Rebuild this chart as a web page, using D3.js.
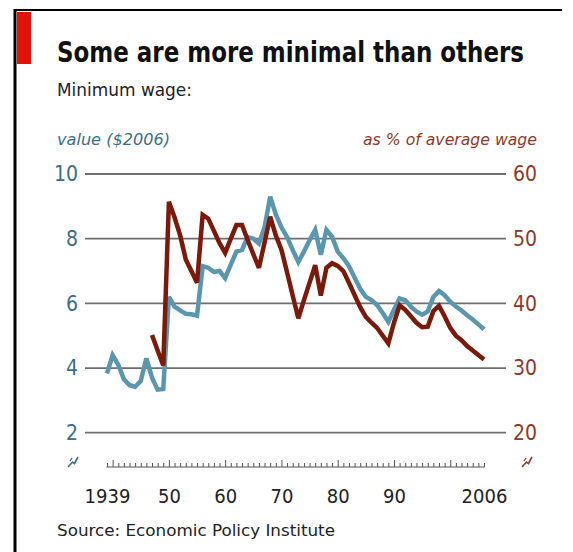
<!DOCTYPE html>
<html>
<head>
<meta charset="utf-8">
<script src="https://cdn.jsdelivr.net/npm/d3@7"></script>
<style>
  html, body { margin: 0; padding: 0; background: #fff; }
  svg { display: block; }
  text { font-family: "Liberation Sans Narrow", "DejaVu Sans Condensed", "Open Sans", sans-serif; }
</style>
</head>
<body>
<script>
// ---------- data ----------
const blueFirstYear = 1939;
const blueValues = [ // minimum wage, value in $2006, 1939-2006
  3.83, 4.4, 4.1, 3.65, 3.47, 3.42, 3.6, 4.3, 3.7, 3.33, 3.35,
  6.2, 5.9, 5.78, 5.68, 5.66, 5.62, 7.15, 7.1, 6.97, 7.0,
  6.78, 7.2, 7.6, 7.65, 8.05, 8.0, 7.85, 8.35, 9.3, 8.75,
  8.35, 8.05, 7.65, 7.28, 7.6, 7.95, 8.27, 7.5, 8.27, 8.06,
  7.6, 7.4, 7.15, 6.8, 6.45, 6.2, 6.1, 5.95, 5.7, 5.43,
  5.8, 6.15, 6.1, 5.9, 5.75, 5.65, 5.75, 6.2, 6.38, 6.25,
  6.05, 5.9, 5.78, 5.63, 5.5, 5.35, 5.2
];
const redFirstYear = 1947;
const redValues = [ // minimum wage as % of average wage, 1947-2006
  35.1, 32.7, 30.4,
  55.7, 53.3, 50.5, 46.8, 45.0, 43.2, 53.7, 53.1, 51.2, 49.3,
  47.8, 50.0, 52.1, 52.1, 49.8, 47.6, 45.5, 49.4, 53.4, 50.5,
  48.3, 44.8, 41.2, 37.7, 40.5, 43.2, 45.9, 41.2, 45.5, 46.2,
  45.8, 45.0, 43.2, 41.3, 39.4, 37.9, 37.0, 36.2, 35.0, 33.8,
  37.0, 39.7, 39.0, 38.0, 37.0, 36.3, 36.4, 38.8, 39.6, 38.0,
  36.2, 35.0, 34.3, 33.4, 32.7, 32.0, 31.3
];
const leftTicks = [2, 4, 6, 8, 10];
const rightTicks = [20, 30, 40, 50, 60];
const xLabelYears = [1939, 1950, 1960, 1970, 1980, 1990, 2006];
const xLabelTexts = ["1939", "50", "60", "70", "80", "90", "2006"];
const xDomain = [1939, 2006];

const title = "Some are more minimal than others";
const subtitle = "Minimum wage:";
const leftAxisTitle = "value ($2006)";
const rightAxisTitle = "as % of average wage";
const source = "Source: Economic Policy Institute";

const blueSeries = blueValues.map((v, i) => ({ year: blueFirstYear + i, v }));
const redSeries = redValues.map((v, i) => ({ year: redFirstYear + i, v }));

// ---------- colours ----------
const BLUE = "#5a97ae";
const RED = "#7a1a0b";
const BLUE_TXT = "#3c6e86";
const RED_TXT = "#8c3a2a";

const W = 573, H = 552;
const svg = d3.select("body").append("svg").attr("width", W).attr("height", H);

// frame
svg.append("line").attr("x1", 15).attr("x2", 15).attr("y1", 9).attr("y2", H)
  .attr("stroke", "#000").attr("stroke-width", 3);
svg.append("line").attr("x1", 14).attr("x2", 562).attr("y1", 10).attr("y2", 10)
  .attr("stroke", "#000").attr("stroke-width", 2);
// red tab
svg.append("rect").attr("x", 17).attr("y", 12).attr("width", 14).attr("height", 52).attr("fill", "#e3120b");

// fit a text to a target width: choose a font size whose natural width is
// at most `slack` times the target, then squeeze the rest with textLength
function fit(sel, w, slack) {
  slack = slack || 1.0;
  let fs = +sel.attr("font-size");
  const natural = sel.node().getComputedTextLength();
  if (natural > w * slack) {
    fs = fs * (w * slack) / natural;
    sel.attr("font-size", fs);
  }
  sel.attr("textLength", w).attr("lengthAdjust", "spacingAndGlyphs");
  return sel;
}

fit(svg.append("text").attr("x", 57).attr("y", 62).attr("font-size", 29).attr("font-weight", "bold")
  .attr("fill", "#111").text(title), 467, 1.08);
fit(svg.append("text").attr("x", 57).attr("y", 96).attr("font-size", 18)
  .attr("fill", "#222").text(subtitle), 135, 1.08);
fit(svg.append("text").attr("x", 57).attr("y", 145).attr("font-size", 15).attr("font-style", "italic")
  .attr("fill", BLUE_TXT).text(leftAxisTitle), 113, 1.08);
fit(svg.append("text").attr("x", 537).attr("y", 145).attr("font-size", 15).attr("font-style", "italic")
  .attr("text-anchor", "end").attr("fill", RED_TXT).text(rightAxisTitle), 174, 1.0);
fit(svg.append("text").attr("x", 57).attr("y", 536).attr("font-size", 16)
  .attr("fill", "#222").text(source), 278, 1.08);

// ---------- scales ----------
const x = d3.scaleLinear().domain(xDomain).range([107, 484]);
const yL = d3.scaleLinear().domain([2, 10]).range([432.7, 174]);
const yR = d3.scaleLinear().domain([20, 60]).range([432.7, 174]);

// gridlines with left labels
const gridX0 = 85, gridX1 = 506;
const gLeft = svg.append("g").attr("transform", `translate(${gridX0},0)`)
  .call(d3.axisLeft(yL).tickValues(leftTicks).tickSize(0).tickPadding(7).tickFormat(d3.format("d")));
gLeft.select(".domain").remove();
gLeft.selectAll("text").attr("font-size", 21).attr("fill", BLUE_TXT)
  .style("font-family", '"Liberation Sans Narrow", "DejaVu Sans Condensed", sans-serif');

const gRight = svg.append("g").attr("transform", `translate(${gridX1},0)`)
  .call(d3.axisRight(yR).tickValues(rightTicks).tickSize(0).tickPadding(7).tickFormat(d3.format("d")));
gRight.select(".domain").remove();
gRight.selectAll("text").attr("font-size", 21).attr("fill", RED_TXT)
  .style("font-family", '"Liberation Sans Narrow", "DejaVu Sans Condensed", sans-serif');

svg.append("g").selectAll("line").data(leftTicks).join("line")
  .attr("x1", gridX0).attr("x2", gridX1)
  .attr("y1", d => yL(d)).attr("y2", d => yL(d))
  .attr("stroke", "#6f6f6f").attr("stroke-width", 1.8);

// ---------- x axis (tick ruler) ----------
const rulerY = 467;
const years = d3.range(xDomain[0], xDomain[1] + 1);
const gx = svg.append("g").attr("transform", `translate(0,${rulerY})`)
  .call(d3.axisTop(x).tickValues(years).tickSize(4).tickFormat(""));
gx.selectAll(".tick line").attr("stroke", "#555").attr("stroke-width", 1)
  .attr("y2", d => (d % 10 === 0 ? -7 : -4));
gx.select(".domain").attr("stroke", "#555").attr("stroke-width", 1)
  .attr("d", `M${x(xDomain[0]) - 0.5},0H${x(xDomain[1]) + 0.5}`);

const gxl = svg.append("g").attr("transform", `translate(0,${rulerY})`)
  .call(d3.axisBottom(x).tickValues(xLabelYears).tickSize(0).tickPadding(22)
    .tickFormat((d, i) => xLabelTexts[i]));
gxl.select(".domain").remove();
gxl.selectAll("text").attr("font-size", 20).attr("fill", "#222")
  .style("font-family", '"Liberation Sans Narrow", "DejaVu Sans Condensed", sans-serif');

// break symbols
function brk(cx, cy, col) {
  svg.append("path")
    .attr("d", `M${cx - 5},${cy + 5} L${cx - 0.5},${cy} L${cx + 1.5},${cy + 1.5} L${cx + 5},${cy - 5}`)
    .attr("fill", "none").attr("stroke", col).attr("stroke-width", 1.6);
  svg.append("path")
    .attr("d", `M${cx - 3},${cy - 1} L${cx - 1},${cy - 4}`)
    .attr("fill", "none").attr("stroke", col).attr("stroke-width", 1.3);
}
brk(73, 462, BLUE_TXT);
brk(527, 462, RED_TXT);

// ---------- lines ----------
const lineB = d3.line().x(d => x(d.year)).y(d => yL(d.v));
const lineR = d3.line().x(d => x(d.year)).y(d => yR(d.v));
svg.append("path").datum(blueSeries).attr("d", lineB)
  .attr("fill", "none").attr("stroke", BLUE).attr("stroke-width", 4.5)
  .attr("stroke-linejoin", "miter").attr("stroke-miterlimit", 3);
svg.append("path").datum(redSeries).attr("d", lineR)
  .attr("fill", "none").attr("stroke", RED).attr("stroke-width", 4.5)
  .attr("stroke-linejoin", "miter").attr("stroke-miterlimit", 3);
</script>
</body>
</html>
